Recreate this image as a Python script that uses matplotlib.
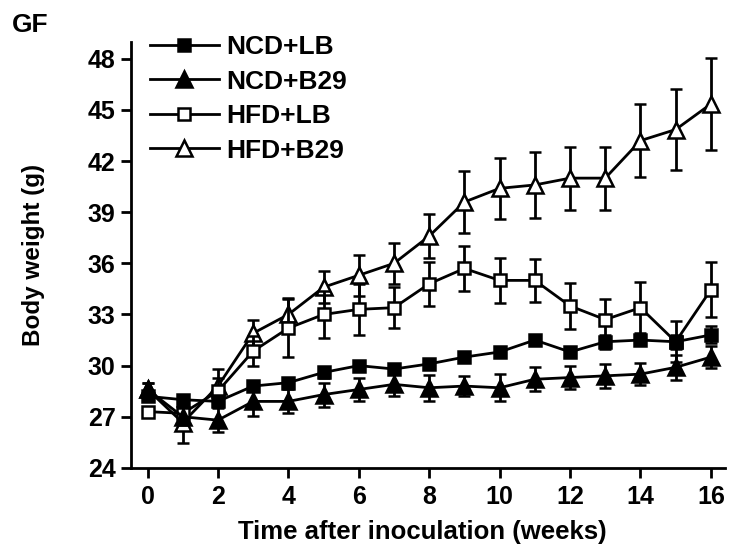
import matplotlib
matplotlib.use("Agg")
import matplotlib.pyplot as plt
import numpy as np

plt.rcParams['font.family'] = ['Liberation Sans', 'DejaVu Sans']
plt.rcParams['font.weight'] = 'bold'

weeks = [0, 1, 2, 3, 4, 5, 6, 7, 8, 9, 10, 11, 12, 13, 14, 15, 16]

ncd_lb = [28.2, 28.0, 27.9, 28.8, 29.0, 29.6, 30.0, 29.8, 30.1, 30.5, 30.8, 31.5, 30.8, 31.4, 31.5, 31.4, 31.8]
ncd_lb_err = [0.3, 0.3, 0.3, 0.3, 0.3, 0.3, 0.3, 0.3, 0.3, 0.3, 0.3, 0.3, 0.3, 0.4, 0.3, 0.4, 0.5]

ncd_b29 = [28.6, 27.0, 26.8, 27.9, 27.9, 28.3, 28.6, 28.9, 28.7, 28.8, 28.7, 29.2, 29.3, 29.4, 29.5, 29.9, 30.5]
ncd_b29_err = [0.4, 0.5, 0.7, 0.85, 0.7, 0.7, 0.7, 0.7, 0.75, 0.6, 0.8, 0.7, 0.65, 0.7, 0.65, 0.75, 0.65]

hfd_lb = [27.3, 27.2, 28.5, 30.85, 32.2, 33.0, 33.3, 33.4, 34.8, 35.7, 35.0, 35.0, 33.5, 32.7, 33.4, 31.4, 34.45]
hfd_lb_err = [0.3, 0.6, 0.8, 0.9, 1.7, 1.4, 1.5, 1.2, 1.3, 1.3, 1.3, 1.25, 1.35, 1.2, 1.5, 1.2, 1.6]

hfd_b29 = [28.6, 26.65, 28.8, 31.9, 33.0, 34.6, 35.3, 36.0, 37.6, 39.6, 40.4, 40.6, 41.0, 41.0, 43.2, 43.85, 45.35]
hfd_b29_err = [0.4, 1.2, 1.0, 0.8, 0.95, 0.95, 1.2, 1.2, 1.3, 1.8, 1.8, 1.95, 1.85, 1.85, 2.15, 2.35, 2.7]

labels = ['NCD+LB', 'NCD+B29', 'HFD+LB', 'HFD+B29']
xticks = [0, 2, 4, 6, 8, 10, 12, 14, 16]
yticks = [24, 27, 30, 33, 36, 39, 42, 45, 48]

fig = plt.figure(figsize=(7.36, 5.57), dpi=100)
ax = fig.add_axes([0.178, 0.160, 0.807, 0.765])

series = [
    (hfd_b29, hfd_b29_err, '^', 'white', 11.5, labels[3]),
    (hfd_lb, hfd_lb_err, 's', 'white', 9, labels[2]),
    (ncd_b29, ncd_b29_err, '^', 'black', 11.5, labels[1]),
    (ncd_lb, ncd_lb_err, 's', 'black', 9, labels[0]),
]
handles = {}
for i, (y, e, m, fc, ms, lab) in enumerate(series):
    h = ax.errorbar(weeks, y, yerr=e, color='black', lw=2.0, marker=m,
                    markersize=ms, markerfacecolor=fc, markeredgecolor='black',
                    markeredgewidth=1.8, capsize=4.5, capthick=2.0,
                    elinewidth=2.0, label=lab, zorder=3 + i)
    handles[lab] = h[0]

ax.set_xlim(-0.47, 16.4)
ax.set_ylim(24, 49)
ax.set_xticks(xticks)
ax.set_yticks(yticks)
ax.set_xticklabels([str(t) for t in xticks])
ax.set_yticklabels([str(t) for t in yticks])
for s in ['top', 'right']:
    ax.spines[s].set_visible(False)
for s in ['left', 'bottom']:
    ax.spines[s].set_linewidth(2.0)
ax.tick_params(axis='both', direction='out', length=7, width=2.0, labelsize=18, pad=4)
ax.tick_params(axis='x', pad=5)
for t in ax.get_xticklabels() + ax.get_yticklabels():
    t.set_fontweight('bold')

ax.set_xlabel('Time after inoculation (weeks)', fontsize=18.5, fontweight='bold')
ax.set_ylabel('Body weight (g)', fontsize=17.5, fontweight='bold')
ax.xaxis.set_label_coords(0.49, -0.122)
ax.yaxis.set_label_coords(-0.145, 0.5)

fig.text(0.016, 0.977, 'GF', fontsize=19, fontweight='bold', va='top', ha='left')

leg = fig.legend([handles[l] for l in labels], labels, loc='upper left',
                 bbox_to_anchor=(150 / 736, 1 - 35 / 557), frameon=False,
                 borderpad=0, borderaxespad=0, handlelength=2.6,
                 handletextpad=0.3, labelspacing=0.4,
                 prop={'weight': 'bold', 'size': 19})

fig.savefig('out.png', dpi=100)
